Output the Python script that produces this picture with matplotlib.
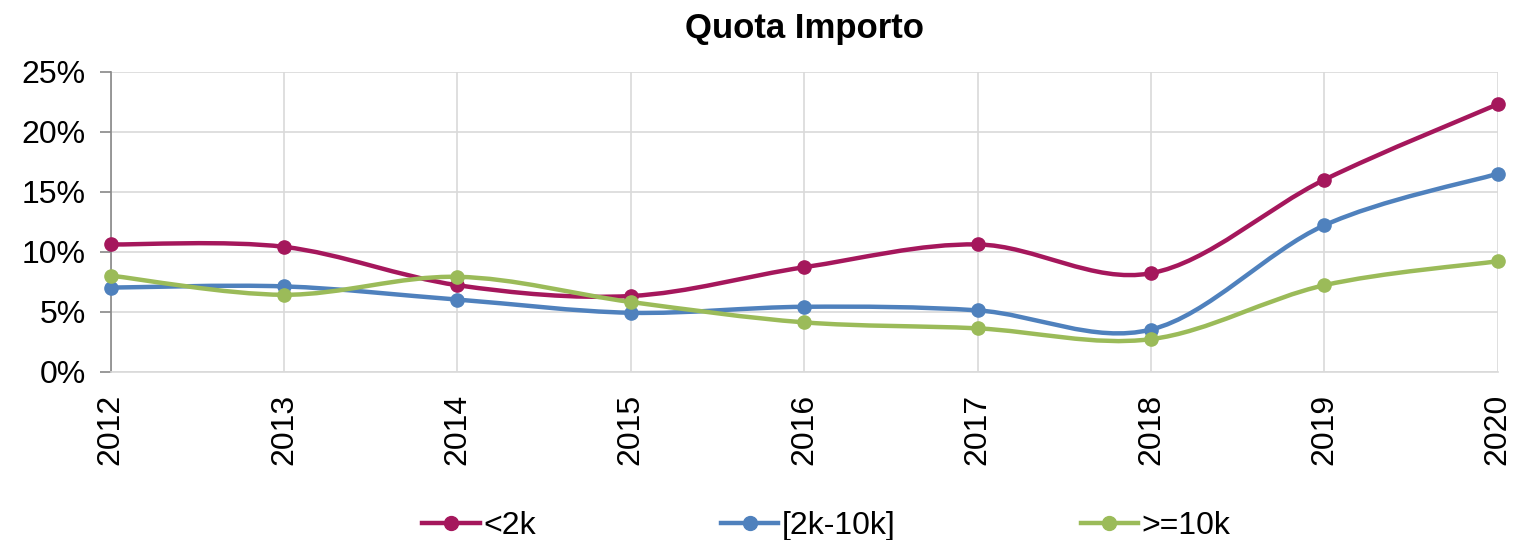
import numpy as np
import matplotlib.pyplot as plt
from matplotlib.path import Path
from matplotlib.patches import PathPatch
from matplotlib.lines import Line2D
from matplotlib.ticker import PercentFormatter

plt.rcParams['font.family'] = ['Liberation Sans', 'DejaVu Sans']

years = ['2012', '2013', '2014', '2015', '2016', '2017', '2018', '2019', '2020']
lt_2k = [10.6, 10.4, 7.2, 6.3, 8.7, 10.6, 8.2, 16.0, 22.3]
mid_2k_10k = [7.0, 7.1, 6.0, 4.9, 5.4, 5.1, 3.5, 12.2, 16.5]
ge_10k = [8.0, 6.4, 7.9, 5.8, 4.1, 3.6, 2.7, 7.2, 9.2]

series = [
    ('<2k', lt_2k, '#A5175C'),
    ('[2k-10k]', mid_2k_10k, '#4F81BD'),
    ('>=10k', ge_10k, '#9BBB59'),
]


def smooth_path(x, y):
    # Catmull-Rom style bezier, like Excel's smoothed line
    pts = np.column_stack([x, y]).astype(float)
    verts = [pts[0]]
    codes = [Path.MOVETO]
    n = len(pts)
    for i in range(n - 1):
        p0 = pts[i - 1] if i > 0 else pts[i]
        p1 = pts[i]
        p2 = pts[i + 1]
        p3 = pts[i + 2] if i + 2 < n else pts[i + 1]
        c1 = p1 + (p2 - p0) / 6.0
        c2 = p2 - (p3 - p1) / 6.0
        verts += [c1, c2, p2]
        codes += [Path.CURVE4] * 3
    return Path(verts, codes)


fig = plt.figure(figsize=(15.16, 5.4), dpi=100)
ax = fig.add_axes([0.073, 0.312, 0.915, 0.555])

x = np.arange(len(years))
for name, vals, color in series:
    patch = PathPatch(smooth_path(x, vals), facecolor='none', edgecolor=color,
                      lw=3.2, capstyle='round', zorder=3)
    ax.add_patch(patch)
    ax.plot(x, vals, 'o', color=color, ms=9.5, zorder=4, clip_on=False)

ax.set_xlim(0, len(years) - 1)
ax.set_ylim(0, 25)
ax.set_yticks(np.arange(0, 26, 5))
ax.yaxis.set_major_formatter(PercentFormatter(decimals=0))
ax.set_xticks(x)
ax.set_xticklabels(years, rotation=90)
ax.tick_params(axis='y', labelsize=23, length=8, color='#888888', width=1.2, pad=10)
ax.tick_params(axis='x', labelsize=23, length=0, pad=16)
ax.grid(True, color='#d9d9d9', lw=1.2)
ax.set_axisbelow(True)
for s in ['top', 'right']:
    ax.spines[s].set_visible(False)
ax.spines['left'].set_color('#888888')
ax.spines['left'].set_linewidth(1.2)
ax.spines['bottom'].set_color('#d9d9d9')
ax.spines['bottom'].set_linewidth(1.2)

ax.set_title('Quota Importo', fontsize=25, fontweight='bold', pad=24)

handles = [Line2D([0], [0], color=c, lw=3.2, marker='o', ms=10) for _, _, c in series]
fig.legend(handles, [n for n, _, _ in series], loc='lower center', ncol=3,
           frameon=False, fontsize=23, bbox_to_anchor=(0.545, -0.055),
           columnspacing=5.8, handlelength=1.8, handletextpad=0.1)

fig.savefig('out.png', dpi=100)
